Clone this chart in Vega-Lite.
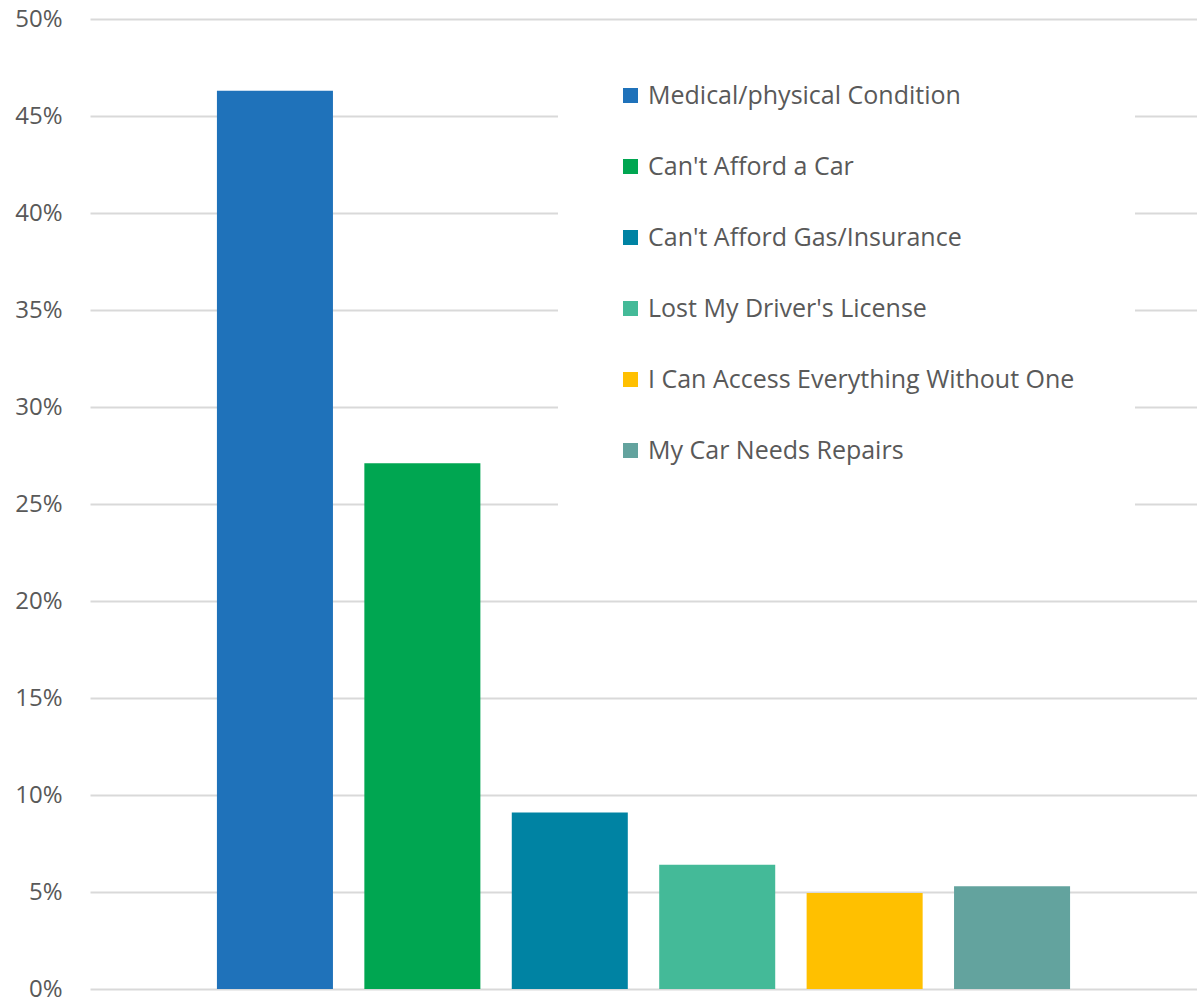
{
  "$schema": "https://vega.github.io/schema/vega-lite/v6.json",
  "width": 1107,
  "height": 970,
  "autosize": {"type": "none"},
  "padding": {"left": 90, "top": 19, "right": 0, "bottom": 11},
  "background": "white",
  "config": {
    "view": {"stroke": null},
    "font": "Open Sans"
  },
  "data": {
    "values": [
      {"reason": "Medical/physical Condition", "pct": 0.463},
      {"reason": "Can't Afford a Car", "pct": 0.271},
      {"reason": "Can't Afford Gas/Insurance", "pct": 0.091},
      {"reason": "Lost My Driver's License", "pct": 0.064},
      {"reason": "I Can Access Everything Without One", "pct": 0.0495},
      {"reason": "My Car Needs Repairs", "pct": 0.053}
    ]
  },
  "mark": {"type": "bar"},
  "encoding": {
    "x": {
      "field": "reason",
      "type": "nominal",
      "sort": null,
      "scale": {"paddingInner": 0.213, "paddingOuter": 0.861},
      "axis": null
    },
    "y": {
      "field": "pct",
      "type": "quantitative",
      "scale": {"domain": [0, 0.5], "nice": false},
      "axis": {
        "values": [0, 0.05, 0.1, 0.15, 0.2, 0.25, 0.3, 0.35, 0.4, 0.45, 0.5],
        "format": ".0%",
        "title": null,
        "domain": false,
        "ticks": false,
        "labelPadding": 28,
        "labelFontSize": 24,
        "labelColor": "#595959",
        "gridColor": "#D9D9D9",
        "gridWidth": 2
      }
    },
    "color": {
      "field": "reason",
      "type": "nominal",
      "sort": null,
      "scale": {
        "domain": ["Medical/physical Condition", "Can't Afford a Car", "Can't Afford Gas/Insurance", "Lost My Driver's License", "I Can Access Everything Without One", "My Car Needs Repairs"],
        "range": ["#1F72BA", "#00A651", "#0083A3", "#44BA98", "#FFC000", "#63A39E"]
      },
      "legend": {
        "title": null,
        "orient": "none",
        "legendX": 468,
        "legendY": 4,
        "padding": 60,
        "fillColor": "white",
        "symbolType": "square",
        "symbolSize": 225,
        "symbolStrokeWidth": 0,
        "labelFontSize": 25,
        "labelColor": "#595959",
        "labelOffset": 5,
        "labelLimit": 600,
        "rowPadding": 45
      }
    }
  }
}
